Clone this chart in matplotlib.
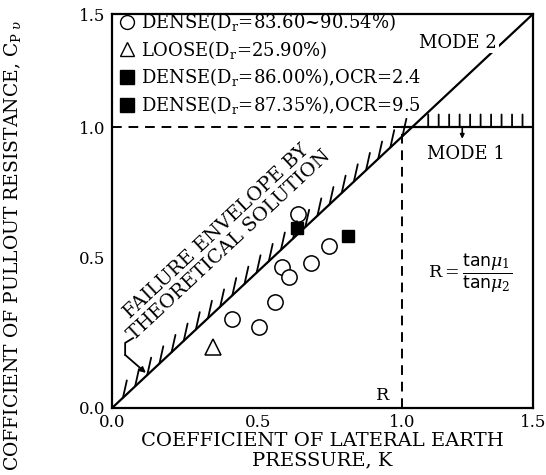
import numpy as np
import matplotlib
matplotlib.use("Agg")
import matplotlib.pyplot as plt
from matplotlib.lines import Line2D

plt.rcParams['font.family'] = ['DejaVu Serif']
plt.rcParams['mathtext.fontset'] = 'dejavuserif'

# measured data (K, Cpu)
dense_k = [0.638, 0.582, 0.609, 0.683, 0.745, 0.559, 0.410, 0.505]
dense_c = [0.668, 0.471, 0.438, 0.484, 0.546, 0.354, 0.297, 0.271]
loose_k = [0.347]
loose_c = [0.202]
ocr24_k = [0.634]
ocr24_c = [0.616]
ocr95_k = [0.814]
ocr95_c = [0.585]
R = 1.0

ticks = [0.0, 0.5, 1.0, 1.5]
tick_labels = ['0.0', '0.5', '1.0', '1.5']
labels = [r'DENSE(D$_\mathrm{r}$=83.60~90.54%)',
          r'LOOSE(D$_\mathrm{r}$=25.90%)',
          r'DENSE(D$_\mathrm{r}$=86.00%),OCR=2.4',
          r'DENSE(D$_\mathrm{r}$=87.35%),OCR=9.5']

# the scanned axes are not quite linear, calibrate against tick positions
xpix = [0, 146, 290, 421]
ypix = [0, 150, 281, 394]
fx = (lambda v: np.interp(v, ticks, xpix), lambda v: np.interp(v, xpix, ticks))
fy = (lambda v: np.interp(v, ticks, ypix), lambda v: np.interp(v, ypix, ticks))

fig = plt.figure(figsize=(5.46, 4.75), dpi=100)
ax = fig.add_axes([112/546, 67/475, 421/546, 394/475])
ax.set_xscale('function', functions=fx)
ax.set_yscale('function', functions=fy)
ax.set_xlim(0, 1.5)
ax.set_ylim(0, 1.5)
ax.set_xticks(ticks, tick_labels)
ax.set_yticks(ticks, tick_labels)
ax.minorticks_off()
ax.tick_params(length=0, pad=5, labelsize=12)
ax.tick_params(axis='x', pad=4)
for s in ax.spines.values():
    s.set_linewidth(1.6)

# envelope
ax.plot([0, 1], [0, 1], color='k', lw=1.6, transform=ax.transAxes, zorder=2)
ax.plot([R, 1.5], [1, 1], color='k', lw=1.6)
ax.plot([0, R], [1, 1], color='k', lw=1.4, ls=(0, (5, 3.5)))
ax.plot([R, R], [0, 1], color='k', lw=1.4, ls=(0, (5, 3.5)))

for t in np.linspace(0.026, 0.69, 24):
    ax.annotate('', xy=(t, t), xycoords='axes fraction', xytext=(2.8, 12.5),
                textcoords='offset points',
                arrowprops=dict(arrowstyle='-', lw=1.3, shrinkA=0, shrinkB=0))
for x in np.linspace(1.1, 1.46, 10):
    ax.annotate('', xy=(x, 1.0), xytext=(0, 9), textcoords='offset points',
                arrowprops=dict(arrowstyle='-', lw=1.3, shrinkA=0, shrinkB=0))

# data
ax.plot(dense_k, dense_c, 'o', mfc='white', mec='k', ms=11, mew=1.1)
ax.plot(loose_k, loose_c, '^', mfc='white', mec='k', ms=11, mew=1.1)
ax.plot(ocr24_k, ocr24_c, 's', color='k', ms=9)
ax.plot(ocr95_k, ocr95_c, 's', color='k', ms=9)

handles = [Line2D([], [], ls='', marker='o', mfc='white', mec='k', ms=10),
           Line2D([], [], ls='', marker='^', mfc='white', mec='k', ms=10),
           Line2D([], [], ls='', marker='s', color='k', ms=10),
           Line2D([], [], ls='', marker='s', color='k', ms=10)]
ax.legend(handles, labels, loc='upper left', bbox_to_anchor=(-0.012, 1.04),
          frameon=False, fontsize=13, handlelength=0.8, handletextpad=0.4,
          labelspacing=0.32, borderpad=0.2)

ax.text(1.215, 1.372, 'MODE 2', fontsize=13, ha='center', va='center',
        bbox=dict(fc='white', ec='none', pad=1))
ax.text(1.244, 0.898, 'MODE 1', fontsize=13, ha='center', va='center')
ax.annotate('', xy=(1.23, 0.955), xytext=(1.23, 1.0),
            arrowprops=dict(arrowstyle='-|>', lw=1.2, color='k',
                            mutation_scale=6, shrinkA=0, shrinkB=0))
ax.text(0.934, 0.043, 'R', fontsize=12.5, ha='center', va='center')
ax.text(1.26, 0.45, r'R$=\dfrac{\mathsf{tan}\mu_1}{\mathsf{tan}\mu_2}$',
        fontsize=12.5, ha='center', va='center')

ax.text(0.38, 0.575, 'FAILURE ENVELOPE BY\nTHEORETICAL SOLUTION',
        fontsize=14, rotation=43, rotation_mode='anchor', ha='center',
        va='center', multialignment='center', linespacing=1.0)
ax.plot([0.072, 0.045, 0.045], [0.233, 0.217, 0.177], color='k', lw=1.3)
ax.annotate('', xy=(0.116, 0.117), xytext=(0.045, 0.177),
            arrowprops=dict(arrowstyle='-|>', lw=1.3, color='k',
                            mutation_scale=8, shrinkA=0, shrinkB=0))

ax.set_xlabel('COEFFICIENT OF LATERAL EARTH\nPRESSURE, K', fontsize=14,
              linespacing=1.1, labelpad=1)
fig.text(13/546, 230/475, r'COFFICIENT OF PULLOUT RESISTANCE, C$_{\mathrm{P}\ \upsilon}$',
         rotation=90, fontsize=13.5, ha='center', va='center')

fig.savefig('out.png', dpi=100)
